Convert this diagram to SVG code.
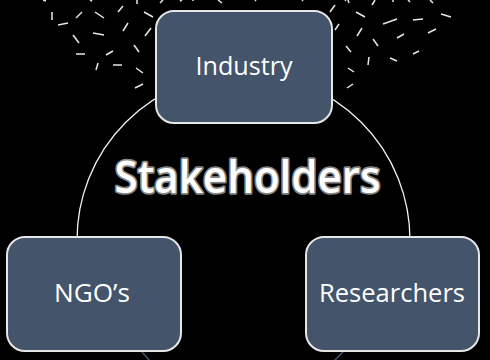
<svg xmlns="http://www.w3.org/2000/svg" width="490" height="360" viewBox="0 0 490 360">
<style>
.bg{fill:#000}
.box{fill:#44546A;stroke:#E6E6E6;stroke-width:2}
.lbl{font-family:"Open Sans","Liberation Sans",sans-serif;font-size:26px;fill:#FFFFFF;text-anchor:middle}
.title{font-family:"Open Sans","Liberation Sans",sans-serif;font-weight:600;font-size:45px;fill:#FFFFFF;text-anchor:middle;stroke:#858585;stroke-width:3.5;paint-order:stroke;stroke-linejoin:round}
.arc{fill:none;stroke:#F2F2F2;stroke-width:1.3}
.stub{fill:none;stroke:#44546A;stroke-width:1.5}
.sp{stroke:#E8E8E8;stroke-width:1.5;stroke-linecap:butt}
</style>
<rect class="bg" x="0" y="0" width="490" height="360"/>
<g id="sparks">
<line class="sp" x1="52" y1="12" x2="52" y2="20"/>
<line class="sp" x1="58" y1="25" x2="68" y2="23"/>
<line class="sp" x1="76" y1="18" x2="82" y2="12"/>
<line class="sp" x1="95" y1="12" x2="104" y2="18"/>
<line class="sp" x1="118" y1="12" x2="123" y2="6"/>
<line class="sp" x1="137" y1="4" x2="137" y2="0"/>
<line class="sp" x1="144" y1="12" x2="153" y2="17"/>
<line class="sp" x1="93" y1="33" x2="104" y2="35"/>
<line class="sp" x1="123" y1="31" x2="128" y2="23"/>
<line class="sp" x1="145" y1="36" x2="151" y2="28"/>
<line class="sp" x1="73" y1="35" x2="79" y2="43"/>
<line class="sp" x1="76" y1="54" x2="85" y2="54"/>
<line class="sp" x1="106" y1="55" x2="113" y2="51"/>
<line class="sp" x1="134" y1="45" x2="139" y2="52"/>
<line class="sp" x1="96" y1="70" x2="98" y2="63"/>
<line class="sp" x1="113" y1="65" x2="122" y2="65"/>
<line class="sp" x1="136" y1="68" x2="143" y2="73"/>
<line class="sp" x1="135" y1="88" x2="143" y2="84"/>
<line class="sp" x1="43" y1="0" x2="46" y2="1"/>
<line class="sp" x1="90" y1="0" x2="92" y2="1"/>
<line class="sp" x1="160" y1="3" x2="163" y2="0"/>
<line class="sp" x1="180" y1="1" x2="182" y2="0"/>
<line class="sp" x1="193" y1="0" x2="193" y2="1"/>
<line class="sp" x1="218" y1="0" x2="222" y2="3"/>
<line class="sp" x1="255" y1="0" x2="256" y2="1"/>
<line class="sp" x1="302" y1="0" x2="303" y2="1"/>
<line class="sp" x1="330" y1="12" x2="335" y2="5"/>
<line class="sp" x1="345" y1="0" x2="346" y2="1"/>
<line class="sp" x1="348" y1="0" x2="349" y2="3"/>
<line class="sp" x1="372" y1="5" x2="375" y2="0"/>
<line class="sp" x1="393" y1="0" x2="393" y2="2"/>
<line class="sp" x1="408" y1="0" x2="410" y2="2"/>
<line class="sp" x1="430" y1="0" x2="433" y2="3"/>
<line class="sp" x1="356" y1="12" x2="365" y2="17"/>
<line class="sp" x1="383" y1="24" x2="397" y2="19"/>
<line class="sp" x1="413" y1="20" x2="423" y2="19"/>
<line class="sp" x1="441" y1="14" x2="451" y2="17"/>
<line class="sp" x1="335" y1="30" x2="339" y2="24"/>
<line class="sp" x1="357" y1="36" x2="362" y2="28"/>
<line class="sp" x1="373" y1="39" x2="378" y2="46"/>
<line class="sp" x1="397" y1="38" x2="404" y2="34"/>
<line class="sp" x1="428" y1="33" x2="436" y2="29"/>
<line class="sp" x1="346" y1="46" x2="351" y2="52"/>
<line class="sp" x1="369" y1="57" x2="368" y2="65"/>
<line class="sp" x1="390" y1="58" x2="397" y2="61"/>
<line class="sp" x1="413" y1="54" x2="419" y2="51"/>
<line class="sp" x1="348" y1="68" x2="354" y2="72"/>
<line class="sp" x1="347" y1="88" x2="353" y2="84"/>
</g>
<g id="connectors">
<path class="arc" d="M77,240 A166.5,166.5 0 0 1 410,240"/>
<line class="stub" x1="142" y1="352" x2="150" y2="361"/>
<line class="stub" x1="343" y1="352" x2="334" y2="361"/>
</g>
<g id="industry">
<rect class="box" x="156" y="11" width="176" height="112" rx="18"/>
<text class="lbl" x="244" y="75" textLength="97" lengthAdjust="spacingAndGlyphs">Industry</text>
</g>
<g id="ngos">
<rect class="box" x="7" y="237" width="174" height="114" rx="18"/>
<text class="lbl" x="92" y="302" textLength="76" lengthAdjust="spacingAndGlyphs">NGO’s</text>
</g>
<g id="researchers">
<rect class="box" x="306" y="237" width="173" height="114" rx="18"/>
<text class="lbl" x="392" y="302" textLength="146" lengthAdjust="spacingAndGlyphs">Researchers</text>
</g>
<g id="title">
<text class="title" x="247.5" y="193" textLength="266" lengthAdjust="spacingAndGlyphs">Stakeholders</text>
</g>
</svg>
